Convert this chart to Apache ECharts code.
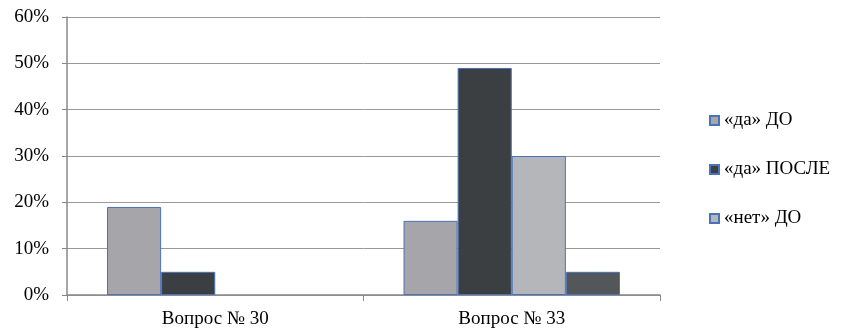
<!DOCTYPE html>
<html><head><meta charset="utf-8">
<script src="https://cdn.jsdelivr.net/npm/echarts@6/dist/echarts.min.js"></script>
<style>html,body{margin:0;padding:0;background:#fff}#c{width:841px;height:334px}</style>
</head><body><div id="c"></div>
<script>
const categories = ['Вопрос № 30', 'Вопрос № 33'];
const seriesNames = ['«да» ДО', '«да» ПОСЛЕ', '«нет» ДО', '«нет» ПОСЛЕ'];
const daDo = [19, 16];
const daPosle = [5, 49];
const netDo = [0, 30];
const netPosle = [0, 5];
const legendNames = ['«да» ДО', '«да» ПОСЛЕ', '«нет» ДО'];
const colors = ['#a6a5aa', '#3c3f42', '#b4b6b9', '#54575a'];
const values = [daDo, daPosle, netDo, netPosle];

const chart = echarts.init(document.getElementById('c'));
const font = "'Liberation Serif', 'Times New Roman', serif";
chart.setOption({
  animation: false,
  textStyle: {fontFamily: font},
  grid: {left: 67, top: 17, right: 181, bottom: 39, containLabel: false},
  legend: {
    data: legendNames, orient: 'vertical', left: 704, top: 106,
    itemWidth: 9, itemHeight: 9, itemGap: 30, icon: 'rect',
    textStyle: {fontFamily: font, fontSize: 19, color: '#000'}
  },
  xAxis: {
    type: 'category', data: categories,
    axisLine: {lineStyle: {color: '#888', width: 1.5}},
    axisTick: {show: true, length: 6, lineStyle: {color: '#888'}},
    axisLabel: {fontFamily: font, fontSize: 19, color: '#000', margin: 15}
  },
  yAxis: {
    type: 'value', min: 0, max: 60, interval: 10,
    axisLine: {show: true, lineStyle: {color: '#888', width: 1.5}},
    axisTick: {show: true, length: 5, lineStyle: {color: '#888'}},
    splitLine: {lineStyle: {color: '#999', width: 1}},
    axisLabel: {fontFamily: font, fontSize: 19, color: '#000', margin: 18, formatter: '{value}%'}
  },
  series: seriesNames.map((n, i) => ({
    name: n, type: 'bar',
    data: values[i].map(v => v === 0 ? {value: v, itemStyle: {borderWidth: 0}} : v),
    barGap: '0%', barCategoryGap: '27%',
    itemStyle: {color: colors[i], borderColor: '#4a72b8', borderWidth: 1}
  }))
});
</script></body></html>
